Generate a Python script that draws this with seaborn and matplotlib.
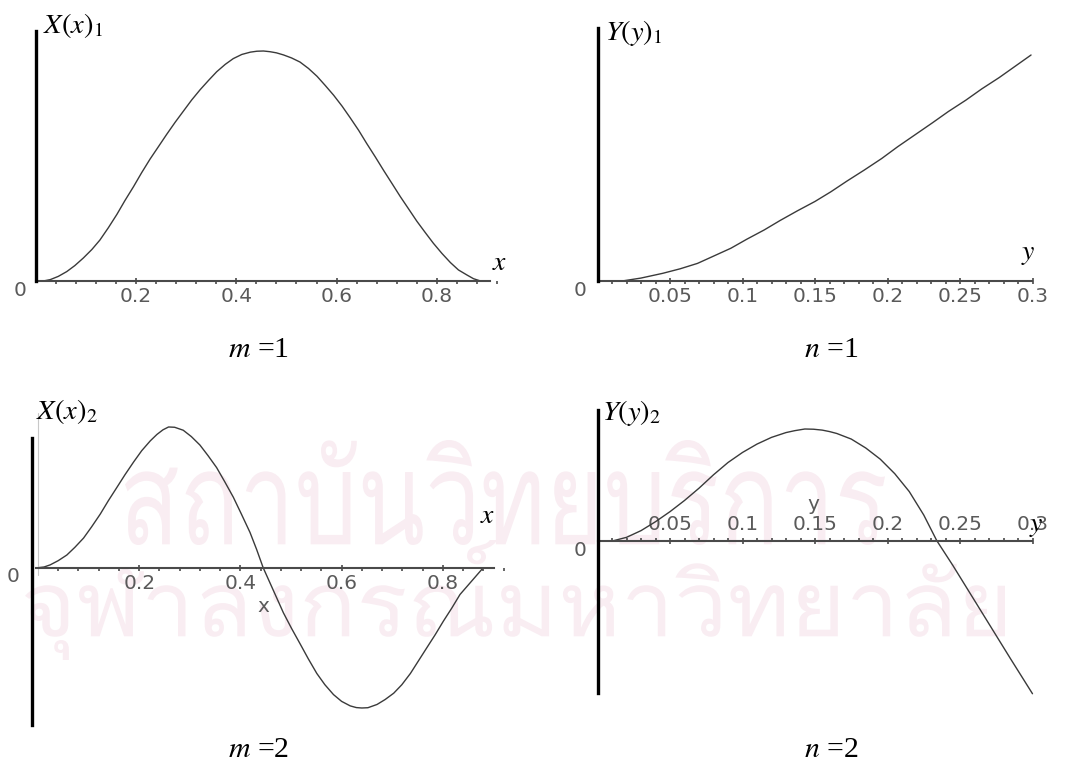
import numpy as np
import pandas as pd
import matplotlib
matplotlib.use("Agg")
import matplotlib.pyplot as plt
import matplotlib.transforms as mtransforms
from matplotlib import font_manager
from matplotlib.ft2font import FT2Font
from matplotlib.textpath import TextPath
from matplotlib.patches import PathPatch
from matplotlib.font_manager import FontProperties
import seaborn as sns

# ---------------------------------------------------------------- data
# X(x)_1 : first mode in x
x1 = [0.015, 0.029, 0.045, 0.062, 0.078, 0.095, 0.112, 0.128, 0.145, 0.162,
      0.178, 0.195, 0.211, 0.228, 0.245, 0.261, 0.278, 0.295, 0.311, 0.328,
      0.345, 0.361, 0.378, 0.394, 0.411, 0.428, 0.441, 0.454, 0.467, 0.480,
      0.494, 0.510, 0.527, 0.544, 0.561, 0.577, 0.594, 0.611, 0.627, 0.644,
      0.660, 0.677, 0.694, 0.711, 0.727, 0.744, 0.760, 0.777, 0.793, 0.810,
      0.827, 0.843, 0.860, 0.873, 0.887]
v1 = [0.0, 0.006, 0.02, 0.041, 0.067, 0.10, 0.137, 0.178, 0.232, 0.29,
      0.35, 0.41, 0.47, 0.53, 0.585, 0.637, 0.69, 0.74, 0.787, 0.832,
      0.873, 0.91, 0.942, 0.967, 0.985, 0.995, 0.999, 1.0, 0.997, 0.992,
      0.983, 0.97, 0.952, 0.924, 0.89, 0.851, 0.808, 0.76, 0.71, 0.655,
      0.598, 0.54, 0.48, 0.422, 0.367, 0.312, 0.26, 0.21, 0.164, 0.12,
      0.08, 0.048, 0.026, 0.01, 0.0]

# Y(y)_1 : first mode in y
y1 = [0.017, 0.030, 0.045, 0.057, 0.069, 0.080, 0.092, 0.103, 0.115, 0.126,
      0.138, 0.150, 0.161, 0.172, 0.184, 0.196, 0.207, 0.219, 0.231, 0.242,
      0.254, 0.265, 0.277, 0.288, 0.299]
w1 = [0.0, 0.013, 0.034, 0.054, 0.078, 0.11, 0.145, 0.185, 0.226, 0.268,
      0.311, 0.352, 0.395, 0.442, 0.491, 0.542, 0.594, 0.647, 0.70, 0.75,
      0.80, 0.85, 0.90, 0.95, 1.0]

# X(x)_2 : second mode in x
x2 = [0.0, 0.012, 0.024, 0.040, 0.057, 0.073, 0.090, 0.106, 0.123, 0.139,
      0.156, 0.172, 0.189, 0.205, 0.222, 0.235, 0.247, 0.258, 0.270, 0.287,
      0.303, 0.320, 0.336, 0.353, 0.369, 0.386, 0.402, 0.419, 0.432, 0.445,
      0.465, 0.485, 0.501, 0.518, 0.534, 0.551, 0.567, 0.584, 0.600, 0.617,
      0.629, 0.640, 0.652, 0.670, 0.686, 0.703, 0.719, 0.736, 0.752, 0.768,
      0.785, 0.801, 0.818, 0.834, 0.857, 0.880]
v2 = [0.0, 0.005, 0.02, 0.05, 0.09, 0.145, 0.21, 0.29, 0.38, 0.475,
      0.57, 0.66, 0.75, 0.83, 0.90, 0.945, 0.978, 0.998, 0.996, 0.975,
      0.93, 0.87, 0.795, 0.71, 0.61, 0.50, 0.38, 0.25, 0.13, 0.0,
      -0.16, -0.32, -0.43, -0.54, -0.645, -0.75, -0.83, -0.90, -0.948, -0.98,
      -0.992, -0.995, -0.993, -0.97, -0.935, -0.89, -0.83, -0.75, -0.66, -0.57,
      -0.475, -0.38, -0.285, -0.19, -0.095, 0.0]

# Y(y)_2 : second mode in y
y2 = [0.011, 0.02, 0.03, 0.04, 0.05, 0.06, 0.07, 0.08, 0.09, 0.10,
      0.11, 0.12, 0.13, 0.136, 0.143, 0.149, 0.155, 0.160, 0.165, 0.175,
      0.185, 0.195, 0.205, 0.215, 0.225, 0.234, 0.245, 0.255, 0.265, 0.275,
      0.285, 0.30]
w2 = [0.0, 0.03, 0.09, 0.17, 0.26, 0.36, 0.47, 0.59, 0.70, 0.79,
      0.865, 0.925, 0.968, 0.985, 1.0, 0.998, 0.99, 0.977, 0.96, 0.91,
      0.83, 0.73, 0.60, 0.44, 0.23, 0.0, -0.22, -0.43, -0.64, -0.85,
      -1.06, -1.37]

x_major = [0.2, 0.4, 0.6, 0.8]
x_labels = ["0.2", "0.4", "0.6", "0.8"]
y_major = [0.05, 0.1, 0.15, 0.2, 0.25, 0.3]
y_labels = ["0.05", "0.1", "0.15", "0.2", "0.25", "0.3"]

titles = [r"$X(x)_1$", r"$Y(y)_1$", r"$X(x)_2$", r"$Y(y)_2$"]
captions = ["=1", "=1", "=2", "=2"]
caption_vars = ["m", "n", "m", "n"]

watermark_lines = ["สถาบันวิทยบริการ", "จุฬาลงกรณ์มหาวิทยาลัย"]

# ---------------------------------------------------------------- style
sns.set_style("white")
plt.rcParams["font.family"] = ["DejaVu Sans"]
plt.rcParams["mathtext.fontset"] = "stix"

W, H = 1065, 762
fig = plt.figure(figsize=(W / 100, H / 100), dpi=100)
fig.patch.set_facecolor("white")

CURVE = "#3a3a3a"
AXIS = "#4a4a4a"
TICKTXT = "#5a5a5a"
SERIF = "Liberation Serif"
TICKSIZE = 14.5


def find_thai_family():
    for f in font_manager.fontManager.ttflist:
        try:
            cmap = FT2Font(f.fname).get_charmap()
        except Exception:
            continue
        if 0x0E2A in cmap and 0x0E16 in cmap and 0x0E08 in cmap:
            return f.name
    return None


def watermark(text, left, top, width, height, family):
    prop = FontProperties(family=family)
    tp = TextPath((0, 0), text, size=100, prop=prop)
    ext = tp.get_extents()
    tr = (mtransforms.Affine2D()
          .translate(-ext.x0, -ext.y0)
          .scale(width / ext.width, height / ext.height)
          .translate(left, H - top - height)
          .scale(1 / W, 1 / H)) + fig.transFigure
    fig.add_artist(PathPatch(tp, transform=tr, facecolor="#f9edf2",
                             edgecolor="none", zorder=0))


thai = find_thai_family()
if thai is not None:
    watermark(watermark_lines[0], 125, 440, 760, 105, thai)
    watermark(watermark_lines[1], 25, 540, 980, 120, thai)


def panel(box, x0, sx, y0, sy):
    """Axes whose data units map onto the given pixel origin and scale."""
    left, top, right, bottom = box
    ax = fig.add_axes([left / W, 1 - bottom / H, (right - left) / W,
                       (bottom - top) / H])
    ax.set_xlim((left - x0) / sx, (right - x0) / sx)
    ax.set_ylim((y0 - bottom) / sy, (y0 - top) / sy)
    ax.patch.set_alpha(0)
    for s in ax.spines.values():
        s.set_visible(False)
    ax.set_yticks([])
    return ax


def draw_curve(ax, xs, vs):
    df = pd.DataFrame({"t": xs, "v": vs})
    sns.lineplot(data=df, x="t", y="v", ax=ax, color=CURVE, lw=1.0,
                 estimator=None, sort=False)
    for ln in ax.lines:
        ln.set_clip_on(False)
        ln.set_solid_joinstyle("round")
    ax.set_xlabel("")
    ax.set_ylabel("")


def axes_lines(ax, yaxis_at, ybounds, xbounds, majors, labels, minor_step,
               labels_on_top=False):
    sp = ax.spines["left"]
    sp.set_visible(True)
    sp.set_position(("data", yaxis_at))
    sp.set_bounds(*ybounds)
    sp.set_linewidth(2.4)
    sp.set_color("black")
    sp.set_zorder(3)

    side = "top" if labels_on_top else "bottom"
    bx = ax.spines[side]
    bx.set_visible(True)
    bx.set_position(("data", 0))
    bx.set_bounds(*xbounds)
    bx.set_linewidth(1.5)
    bx.set_color(AXIS)
    if labels_on_top:
        ax.xaxis.tick_top()
    else:
        ax.xaxis.tick_bottom()
    ax.set_xticks(majors)
    ax.set_xticklabels(labels)
    n = int(round(xbounds[1] / minor_step))
    minors = [minor_step * k for k in range(1, n + 1)]
    ax.set_xticks(minors, minor=True)
    ax.tick_params(axis="x", which="major", direction="inout", length=5,
                   width=1.2, color=AXIS, labelsize=TICKSIZE,
                   labelcolor=TICKTXT, pad=2)
    ax.tick_params(axis="x", which="minor", direction="out", length=2.5,
                   width=1.2, color=AXIS)


def put(px, py, s, **kw):
    fig.text(px / W, 1 - py / H, s, **kw)


# ---- top-left : X(x)_1
ax1 = panel((10, 20, 505, 310), 35.7, 501.5, 281, 230)
draw_curve(ax1, x1, v1)
axes_lines(ax1, 0.0, (0, 1.087), (0, 0.906), x_major, x_labels, 0.04)

# ---- top-right : Y(y)_1
ax2 = panel((570, 20, 1060, 310), 597.5, 1450, 281, 226)
draw_curve(ax2, y1, w1)
axes_lines(ax2, 0.0, (0, 1.12), (0, 0.2997), y_major, y_labels, 0.01)

# ---- bottom-left : X(x)_2
ax3 = panel((10, 400, 505, 735), 38, 506, 567.7, 141)
draw_curve(ax3, x2, v2)
axes_lines(ax3, -0.012, (-1.116, 0.92), (-0.004, 0.901), x_major, x_labels,
           0.04)
ax3.plot([0, 0], [-0.05, 1.1], color="#c8c8c8", lw=0.8, clip_on=False)

# ---- bottom-right : Y(y)_2
ax4 = panel((570, 400, 1060, 735), 597.5, 1450, 540.7, 111.7)
draw_curve(ax4, y2, w2)
axes_lines(ax4, 0.0, (-1.364, 1.17), (0, 0.2997), y_major, y_labels, 0.01,
           labels_on_top=True)

# ---- origin labels
for (px, py) in [(20, 290), (580, 290), (13, 577), (580, 550)]:
    put(px, py, "0", ha="center", va="center", fontsize=TICKSIZE,
        color=TICKTXT)

# ---- plain axis names that the plotting program left in the panels
put(263, 607, "x", ha="center", va="center", fontsize=TICKSIZE,
    color=TICKTXT)
put(813, 504, "y", ha="center", va="center", fontsize=TICKSIZE,
    color=TICKTXT)

# ---- function titles
for (px, py), t in zip([(43, 26), (605, 33), (36, 411), (602, 413)], titles):
    put(px, py, t, ha="left", va="center", fontsize=20.5, color="black")

# ---- italic axis variables
for (px, py), t in zip([(500, 262), (1028, 253), (488, 515), (1036, 525)],
                       ["x", "y", "x", "y"]):
    put(px, py, "$" + t + "$", ha="center", va="center", fontsize=20,
        color="black")

# ---- captions
for (px, py), v, c in zip([(259, 350), (831, 350), (259, 750), (831, 750)],
                          caption_vars, captions):
    put(px, py, "$" + v + "$ " + c, ha="center", va="center", fontsize=21.5,
        color="black", family=SERIF)

fig.savefig("out.png", dpi=100, facecolor="white")
